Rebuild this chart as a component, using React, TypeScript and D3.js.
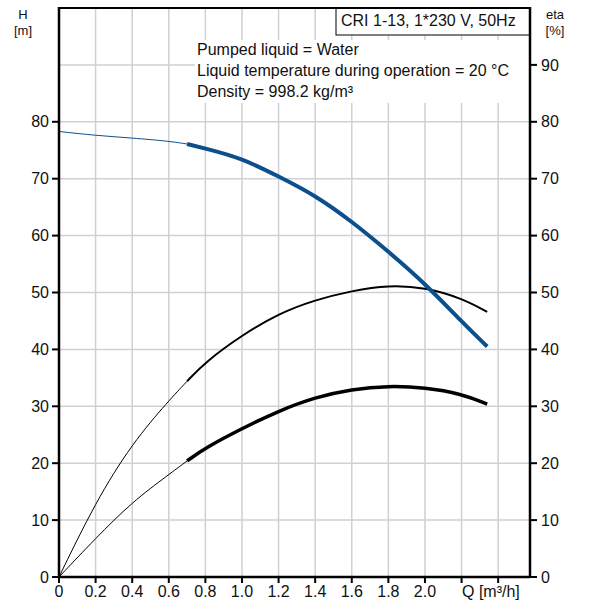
import React from 'react';
import * as d3 from 'd3';

// flow Q [m3/h] sample points, split at the start of the operating range
const qLow = [0, 0.2, 0.4, 0.6, 0.7];
const qHigh = [0.7, 0.8, 1.0, 1.2, 1.4, 1.6, 1.8, 2.0, 2.2, 2.34];

// head H [m]
const headLow = [78.3, 77.6, 77.15, 76.6, 76.1];
const headHigh = [76.1, 75.3, 73.6, 70.4, 67.1, 62.5, 57.2, 51.6, 44.9, 40.5];

// efficiency curves [%]
const etaLow = [0, 13.2, 23.5, 31.0, 34.4];
const etaHigh = [34.4, 37.8, 42.5, 46.3, 48.7, 50.3, 51.3, 50.9, 49.0, 46.6];
const eta2Low = [0, 6.8, 13.2, 18.0, 20.4];
const eta2High = [20.4, 22.7, 26.1, 29.2, 31.6, 33.0, 33.6, 33.3, 32.2, 30.4];

const xTicks = [0, 0.2, 0.4, 0.6, 0.8, 1.0, 1.2, 1.4, 1.6, 1.8, 2.0, 2.2, 2.4];
const xLabelTicks = [0, 0.2, 0.4, 0.6, 0.8, 1.0, 1.2, 1.4, 1.6, 1.8, 2.0];
const leftTicks = [0, 10, 20, 30, 40, 50, 60, 70, 80];
const rightTicks = [0, 10, 20, 30, 40, 50, 60, 70, 80, 90];
const gridY = [10, 20, 30, 40, 50, 60, 70, 80, 90];

const infoLines = [
  'Pumped liquid = Water',
  'Liquid temperature during operation = 20 °C',
  'Density = 998.2 kg/m³',
];
const title = 'CRI 1-13, 1*230 V, 50Hz';

const W = 597;
const H = 601;
const margin = { left: 59, right: 67, top: 8, bottom: 24 };
const FONT = '"Liberation Sans", Arial, sans-serif';
const BLUE = '#0b4f8c';
const GRID = '#cdd1d5';

export default function App() {
  const x = d3.scaleLinear().domain([0, 2.574]).range([margin.left, W - margin.right]);
  const y = d3.scaleLinear().domain([0, 100]).range([H - margin.bottom, margin.top]);

  // smooth spline through the read-off points
  const line = (qs: number[], vs: number[]) =>
    d3
      .line<number>()
      .x((_, i) => x(qs[i]))
      .y((v) => y(v))
      .curve(d3.curveBasis)(vs) || '';

  const x0 = x(0);
  const x1 = x(2.574);
  const yb = y(0);
  const yt = y(100);

  return (
    <svg
      width={W}
      height={H}
      style={{ position: 'absolute', left: 0, top: 0, background: '#fff' }}
      fontFamily={FONT}
    >
      {/* grid */}
      {xTicks.slice(1).map((t) => (
        <line key={'gx' + t} x1={x(t)} x2={x(t)} y1={yt} y2={yb} stroke={GRID} strokeWidth={1.5} />
      ))}
      {gridY.map((t) => (
        <line key={'gy' + t} x1={x0} x2={x1} y1={y(t)} y2={y(t)} stroke={GRID} strokeWidth={1.5} />
      ))}

      {/* info text block */}
      <rect x={195} y={40} width={x1 - 195} height={63} fill="#fff" />
      {infoLines.map((s, i) => (
        <text key={s} x={197} y={55 + i * 21} fontSize={16} fill="#111">
          {s}
        </text>
      ))}

      {/* title box */}
      <rect x={336} y={yt} width={x1 - 336} height={27} fill="#fff" stroke="#000" strokeWidth={1} />
      <text x={341} y={26} fontSize={16} fill="#111">
        {title}
      </text>

      {/* curves */}
      <path d={line(qLow, eta2Low)} fill="none" stroke="#000" strokeWidth={1} />
      <path d={line(qHigh, eta2High)} fill="none" stroke="#000" strokeWidth={3.5} />
      <path d={line(qLow, etaLow)} fill="none" stroke="#000" strokeWidth={1} />
      <path d={line(qHigh, etaHigh)} fill="none" stroke="#000" strokeWidth={2} />
      <path d={line(qLow, headLow)} fill="none" stroke={BLUE} strokeWidth={1} />
      <path d={line(qHigh, headHigh)} fill="none" stroke={BLUE} strokeWidth={4} />

      {/* frame */}
      <line x1={x0} x2={x1} y1={yt} y2={yt} stroke="#000" strokeWidth={2} />
      <line x1={x0} x2={x0} y1={yt - 1} y2={yb + 1} stroke="#000" strokeWidth={2.5} />
      <line x1={x1} x2={x1} y1={yt - 1} y2={yb + 1} stroke="#000" strokeWidth={2.5} />
      <line x1={x0} x2={x1} y1={yb} y2={yb} stroke="#000" strokeWidth={2.5} />

      {/* left axis */}
      {leftTicks.map((t) => (
        <g key={'l' + t}>
          <line x1={x0 - 7} x2={x0} y1={y(t)} y2={y(t)} stroke="#000" strokeWidth={2} />
          <text x={x0 - 10} y={y(t)} dy="0.35em" textAnchor="end" fontSize={16} fill="#111">
            {t}
          </text>
        </g>
      ))}
      {/* right axis */}
      {rightTicks.map((t) => (
        <g key={'r' + t}>
          <line x1={x1} x2={x1 + 7} y1={y(t)} y2={y(t)} stroke="#000" strokeWidth={2} />
          <text x={x1 + 11} y={y(t)} dy="0.35em" textAnchor="start" fontSize={16} fill="#111">
            {t}
          </text>
        </g>
      ))}
      {/* bottom axis */}
      {xTicks.map((t) => (
        <line key={'b' + t} x1={x(t)} x2={x(t)} y1={yb} y2={yb + 6} stroke="#000" strokeWidth={2} />
      ))}
      {xLabelTicks.map((t) => (
        <text key={'bl' + t} x={x(t)} y={597} textAnchor="middle" fontSize={16} fill="#111">
          {t === 0 ? '0' : t.toFixed(1)}
        </text>
      ))}
      <text x={462} y={597} fontSize={16} fill="#111">
        Q [m³/h]
      </text>

      {/* axis titles */}
      <text x={23} y={19} textAnchor="middle" fontSize={13} fill="#111">H</text>
      <text x={23} y={35} textAnchor="middle" fontSize={13} fill="#111">[m]</text>
      <text x={555} y={19} textAnchor="middle" fontSize={13} fill="#111">eta</text>
      <text x={555} y={35} textAnchor="middle" fontSize={13} fill="#111">[%]</text>
    </svg>
  );
}
